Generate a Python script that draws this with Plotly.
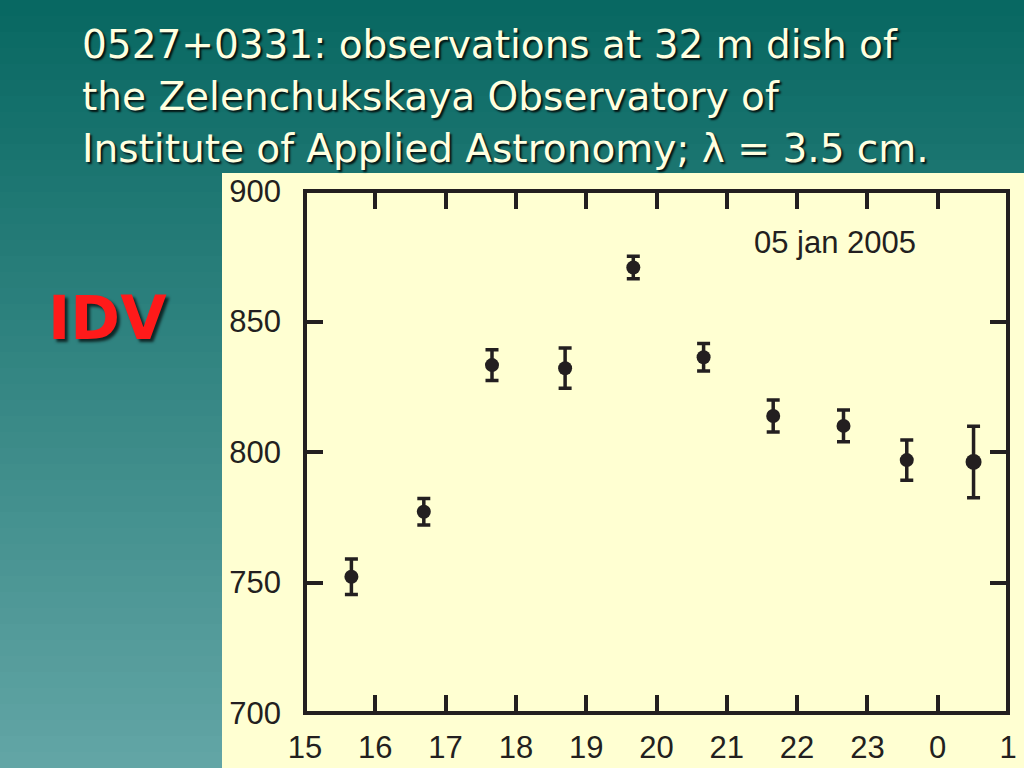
import plotly.graph_objects as go

# ---- data ----
hours = [15.66, 16.69, 17.66, 18.70, 19.67, 20.67, 21.66, 22.66, 23.56, 24.51]
flux = [752.2, 777.1, 833.3, 832.1, 870.7, 836.3, 813.8, 810.0, 796.9, 796.2]
flux_err = [6.8, 5.1, 5.9, 7.7, 4.3, 5.3, 6.1, 6.1, 7.7, 13.7]
x_tick_values = [15, 16, 17, 18, 19, 20, 21, 22, 23, 24, 25]
x_tick_labels = ["15", "16", "17", "18", "19", "20", "21", "22", "23", "0", "1"]
y_tick_values = [700, 750, 800, 850, 900]
title_lines = [
    "0527+0331: observations at 32 m dish of",
    "the Zelenchukskaya Observatory of",
    "Institute of Applied Astronomy; \u03bb = 3.5 cm.",
]
date_label = "05 jan 2005"
side_label = "IDV"

W, H = 1024, 768
L, R, T, B = 305, 1008, 191, 713


def px(x):
    return (x - L) / (R - L)


def py(y):
    return (B - y) / (B - T)


def lerp_color(c1, c2, t):
    a = [int(c1[i:i + 2], 16) for i in (1, 3, 5)]
    b = [int(c2[i:i + 2], 16) for i in (1, 3, 5)]
    return "#" + "".join(f"{round(a[k] + (b[k] - a[k]) * t):02x}" for k in range(3))


ink = "#231f20"

fig = go.Figure()
fig.add_trace(go.Scatter(
    x=hours, y=flux, mode="markers",
    marker=dict(color=ink, size=[14] * 9 + [16], opacity=1, line=dict(width=0)),
    error_y=dict(type="data", array=flux_err, visible=True,
                 color=ink, thickness=3.5, width=6.5),
    showlegend=False, hoverinfo="x+y",
))

shapes = []
n = 48
for i in range(n):
    y0 = i * H / n - (2 if i == 0 else 0)
    y1 = (i + 1) * H / n + (3 if i == n - 1 else 1)
    shapes.append(dict(type="rect", xref="paper", yref="paper", layer="below",
                       x0=px(-2), x1=px(W + 2), y0=py(y1), y1=py(y0),
                       fillcolor=lerp_color("#086862", "#62a5a5", i / (n - 1)),
                       line=dict(width=0)))
# yellow panel
shapes.append(dict(type="rect", xref="paper", yref="paper", layer="below",
                   x0=px(222), x1=px(W + 2), y0=py(H + 2), y1=py(173),
                   fillcolor="#ffffd2", line=dict(width=0)))
# plot frame
shapes.append(dict(type="rect", xref="paper", yref="paper", layer="above",
                   x0=0, x1=1, y0=0, y1=1,
                   line=dict(color=ink, width=4)))

annotations = []
title_font = dict(family="DejaVu Sans", size=39, color="#ffffe0",
                  shadow="2px 2px 2px rgba(0,0,0,0.85)")
for i, line in enumerate(title_lines):
    annotations.append(dict(text=line, xref="paper", yref="paper",
                            x=px(80), y=py(44 + 52 * i),
                            xanchor="left", yanchor="middle",
                            showarrow=False, font=title_font))
annotations.append(dict(text=side_label, xref="paper", yref="paper",
                        x=px(107), y=py(318), xanchor="center", yanchor="middle",
                        showarrow=False,
                        font=dict(family="DejaVu Sans", size=60, color="#ff1a1a",
                                  weight="bold",
                                  shadow="3px 3px 3px rgba(0,0,0,0.7)")))
annotations.append(dict(text=date_label, xref="paper", yref="paper",
                        x=px(835), y=py(242), xanchor="center", yanchor="middle",
                        showarrow=False,
                        font=dict(family="Liberation Sans, Arial", size=31, color=ink)))

axis_font = dict(family="Liberation Sans, Arial", size=31, color=ink)
fig.update_layout(
    width=W, height=H, autosize=False,
    margin=dict(l=L, r=W - R, t=T, b=H - B, pad=0, autoexpand=False),
    paper_bgcolor="#3a8482",
    plot_bgcolor="#ffffd2",
    shapes=shapes,
    annotations=annotations,
    xaxis=dict(range=[15, 25], tickvals=x_tick_values, ticktext=x_tick_labels,
               ticks="inside", ticklen=18, tickwidth=4, tickcolor=ink,
               showline=False, mirror="ticks", showgrid=False, zeroline=False,
               automargin=False,
               tickfont=axis_font, ticklabelstandoff=13, fixedrange=True),
    yaxis=dict(range=[700, 900], tickvals=y_tick_values,
               ticks="inside", ticklen=18, tickwidth=4, tickcolor=ink,
               showline=False, mirror="ticks", showgrid=False, zeroline=False,
               automargin=False,
               tickfont=axis_font, ticklabelstandoff=23, fixedrange=True),
)

fig.write_html(
    "out.html",
    config={"displayModeBar": False},
    post_script="document.body.style.margin='0';document.body.style.overflow='hidden';",
)
